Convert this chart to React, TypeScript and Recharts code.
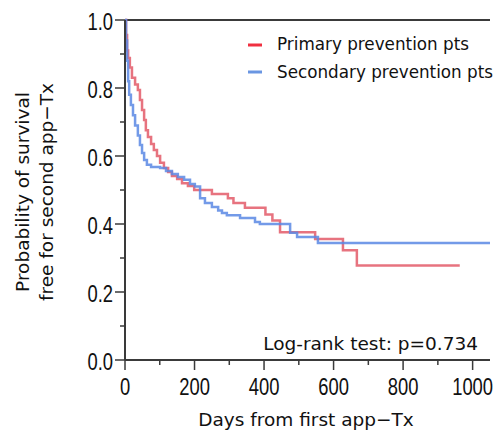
import React from "react"
import { LineChart, Line, XAxis, YAxis, ReferenceLine, Customized } from "recharts"

// Kaplan-Meier steps
const primaryDays = [0, 3, 6, 9, 14, 20, 29, 37, 43, 49, 55, 60, 66, 75, 83, 92, 101, 112, 124, 135, 150, 164, 181, 199, 250, 296, 312, 345, 404, 424, 446, 547, 627, 667, 963]
const primarySurv = [1, 0.956, 0.91, 0.888, 0.86, 0.83, 0.81, 0.794, 0.765, 0.735, 0.706, 0.676, 0.656, 0.635, 0.618, 0.6, 0.58, 0.565, 0.553, 0.541, 0.532, 0.52, 0.512, 0.5, 0.488, 0.476, 0.462, 0.448, 0.428, 0.41, 0.376, 0.356, 0.323, 0.278, 0.278]

const secondaryDays = [0, 3, 6, 9, 12, 17, 23, 29, 37, 43, 49, 55, 63, 75, 101, 118, 135, 152, 170, 187, 201, 216, 230, 250, 268, 279, 293, 331, 374, 388, 475, 495, 555, 1050]
const secondarySurv = [1, 0.94, 0.88, 0.82, 0.78, 0.75, 0.72, 0.69, 0.66, 0.632, 0.609, 0.588, 0.574, 0.568, 0.565, 0.556, 0.547, 0.538, 0.53, 0.518, 0.51, 0.476, 0.462, 0.45, 0.44, 0.432, 0.426, 0.418, 0.406, 0.4, 0.374, 0.362, 0.344, 0.344]

const xTicks = [0, 100, 200, 300, 400, 500, 600, 700, 800, 900, 1000]
const yTicks = [0, 0.1, 0.2, 0.3, 0.4, 0.5, 0.6, 0.7, 0.8, 0.9, 1.0]

const seriesNames = ["Primary prevention pts", "Secondary prevention pts"]
const pValueText = "Log-rank test: p=0.734"
const xLabel = "Days from first app\u2212Tx"
const yLabelLines = ["Probability of survival", "free for second app\u2212Tx"]

const primaryData = primaryDays.map((d, i) => ({ day: d, surv: primarySurv[i] }))
const secondaryData = secondaryDays.map((d, i) => ({ day: d, surv: secondarySurv[i] }))

const AXIS = "#3a3a3a"
const RED = "#e35a68"
const BLUE = "#5a88e4"
const TEXT_FONT = "'DejaVu Sans', sans-serif"
const TICK_FONT = "'Liberation Sans', Arial, sans-serif"

function XTick(props: any) {
  const { x, y, payload } = props
  const major = payload.value % 200 === 0
  return (
    <g>
      <line x1={x} x2={x} y1={y} y2={y + (major ? 10 : 5)} stroke={AXIS} strokeWidth={1.5} />
      {major && (
        <text
          transform={`translate(${x},${y + 35}) scale(0.8,1)`}
          textAnchor="middle"
          fontFamily={TICK_FONT}
          fontSize={23}
          fill="#111"
        >
          {payload.value}
        </text>
      )}
    </g>
  )
}

function YTick(props: any) {
  const { x, y, payload } = props
  const major = Math.round(payload.value * 10) % 2 === 0
  return (
    <g>
      <line x1={x} x2={x - (major ? 10 : 5)} y1={y} y2={y} stroke={AXIS} strokeWidth={1.5} />
      {major && (
        <text
          transform={`translate(${x - 12},${y + 10}) scale(0.8,1)`}
          textAnchor="end"
          fontFamily={TICK_FONT}
          fontSize={23}
          fill="#111"
        >
          {payload.value.toFixed(1)}
        </text>
      )}
    </g>
  )
}

function Annotations() {
  return (
    <g>
      {/* legend */}
      <line x1={248} x2={262} y1={45} y2={45} stroke="#f03040" strokeWidth={3} />
      <text x={277} y={50} fontFamily={TEXT_FONT} fontSize={16.8} fill="#111">{seriesNames[0]}</text>
      <line x1={248} x2={262} y1={72} y2={72} stroke="#6a96e2" strokeWidth={3} />
      <text x={277} y={78} fontFamily={TEXT_FONT} fontSize={16.8} fill="#111">{seriesNames[1]}</text>

      <text x={478} y={350} textAnchor="end" fontFamily={TEXT_FONT} fontSize={18.5} fill="#111">{pValueText}</text>

      <text x={306} y={426} textAnchor="middle" fontFamily={TEXT_FONT} fontSize={18.5} fill="#111">{xLabel}</text>

      {yLabelLines.map((t, i) => (
        <text
          key={t}
          transform={`translate(${29 + i * 24},192) rotate(-90)`}
          textAnchor="middle"
          fontFamily={TEXT_FONT}
          fontSize={18.5}
          fill="#111"
        >
          {t}
        </text>
      ))}
    </g>
  )
}

export default function App() {
  return (
    <div style={{ position: "absolute", left: 0, top: 0, width: 499, height: 430, background: "#fff" }}>
      <LineChart width={499} height={430} margin={{ top: 20, right: 9, left: 0, bottom: 0 }}>
        <XAxis
          dataKey="day"
          type="number"
          domain={[0, 1050]}
          ticks={xTicks}
          interval={0}
          height={70}
          tickSize={0}
          tickMargin={0}
          tickLine={false}
          axisLine={{ stroke: AXIS, strokeWidth: 2 }}
          tick={<XTick />}
          allowDuplicatedCategory={false}
        />
        <YAxis
          type="number"
          domain={[0, 1]}
          ticks={yTicks}
          interval={0}
          width={125}
          tickSize={0}
          tickMargin={0}
          tickLine={false}
          axisLine={{ stroke: AXIS, strokeWidth: 2 }}
          tick={<YTick />}
        />
        <ReferenceLine y={1} stroke={AXIS} strokeWidth={2} />
        <Line
          data={primaryData}
          dataKey="surv"
          type="stepAfter"
          stroke={RED}
          strokeWidth={2.5}
          strokeOpacity={0.85}
          dot={false}
          isAnimationActive={false}
        />
        <Line
          data={secondaryData}
          dataKey="surv"
          type="stepAfter"
          stroke={BLUE}
          strokeWidth={2.5}
          strokeOpacity={0.85}
          dot={false}
          isAnimationActive={false}
        />
        <Customized component={<Annotations />} />
      </LineChart>
    </div>
  )
}
